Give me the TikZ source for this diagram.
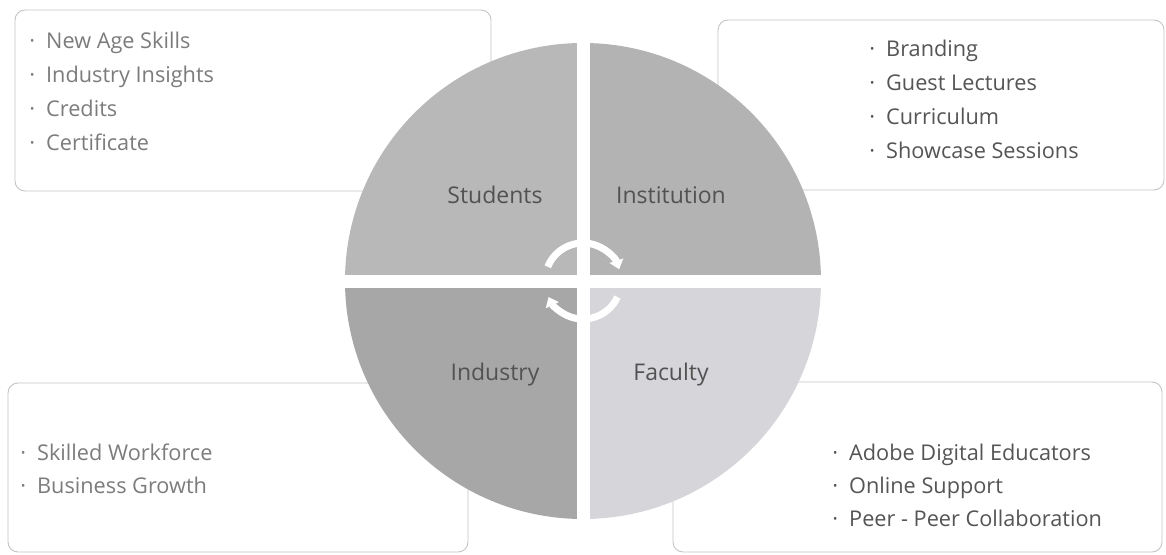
\documentclass[tikz,border=0pt]{standalone}
\usepackage{fontspec}
\setmainfont{Open Sans}
\usetikzlibrary{arrows.meta,calc}
\definecolor{cS}{HTML}{B8B8B8}
\definecolor{cI}{HTML}{B3B3B3}
\definecolor{cN}{HTML}{A7A7A7}
\definecolor{cF}{HTML}{D6D6DA}
\definecolor{bord}{HTML}{C4C4C4}
\definecolor{txtL}{HTML}{7C7C7C}
\definecolor{txtD}{HTML}{555555}
\definecolor{lab}{HTML}{525252}
\newcommand{\itm}[1]{\llap{·\hspace{11pt}}#1}
\begin{document}
\begin{tikzpicture}[x=1pt,y=-1pt,
 box/.style={draw=bord, line width=0.9pt, rounded corners=10pt, fill=white, inner sep=0pt},
 item/.style={anchor=base west, inner sep=0pt, font=\fontsize{21.7}{25}\selectfont},
 qlabel/.style={anchor=base, inner sep=0pt, font=\fontsize{23}{27}\selectfont, text=lab},
 cyc/.style={draw=white, line width=7pt, -{Triangle[width=14pt,length=9pt]}}]
\useasboundingbox (0,0) rectangle (1166,554);
% boxes
\node[box, minimum width=476pt, minimum height=181pt] (bTL) at (253,100.5) {};
\node[box, minimum width=446pt, minimum height=170pt] (bTR) at (941,105) {};
\node[box, minimum width=460pt, minimum height=169pt] (bBL) at (238,467.5) {};
\node[box, minimum width=489pt, minimum height=170pt] (bBR) at (917.5,467) {};
% circle
\coordinate (O) at (583,281);
\begin{scope}
\clip (O) circle (238);
\fill[cS] (340,40) rectangle (576.5,274.5);
\fill[cI] (589.5,40) rectangle (825,274.5);
\fill[cN] (340,287.5) rectangle (576.5,525);
\fill[cF] (589.5,287.5) rectangle (825,525);
\end{scope}
% cycle arrows
\draw[cyc] ($(O)+(-158:38)$) arc[start angle=-158, end angle=-18, radius=38];
\draw[cyc] ($(O)+(25:38)$) arc[start angle=25, end angle=155, radius=38];
% quadrant labels
\node[qlabel] (lS) at (495,203) {Students};
\node[qlabel] (lI) at (671,203) {Institution};
\node[qlabel] (lN) at (495,380) {Industry};
\node[qlabel] (lF) at (671,380) {Faculty};
% lists
\node[item, text=txtL] (tl1) at (46,48) {\itm{New Age Skills}};
\node[item, text=txtL] (tl2) at (46,82) {\itm{Industry Insights}};
\node[item, text=txtL] (tl3) at (46,116) {\itm{Credits}};
\node[item, text=txtL] (tl4) at (46,150) {\itm{Certificate}};
\node[item, text=txtD] (tr1) at (886,56) {\itm{Branding}};
\node[item, text=txtD] (tr2) at (886,90) {\itm{Guest Lectures}};
\node[item, text=txtD] (tr3) at (886,124) {\itm{Curriculum}};
\node[item, text=txtD] (tr4) at (886,158) {\itm{Showcase Sessions}};
\node[item, text=txtL] (bl1) at (37,460) {\itm{Skilled Workforce}};
\node[item, text=txtL] (bl2) at (37,493) {\itm{Business Growth}};
\node[item, text=txtD] (br1) at (849,460) {\itm{Adobe Digital Educators}};
\node[item, text=txtD] (br2) at (849,493) {\itm{Online Support}};
\node[item, text=txtD] (br3) at (849,526) {\itm{Peer - Peer Collaboration}};
\end{tikzpicture}
\end{document}
